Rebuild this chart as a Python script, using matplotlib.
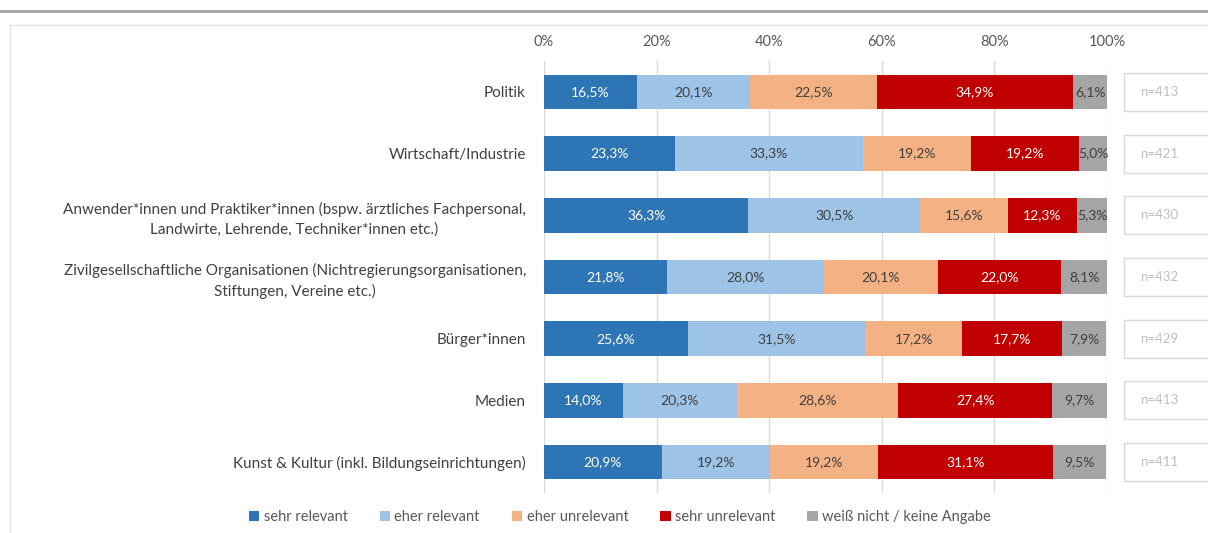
import matplotlib.pyplot as plt
from matplotlib.patches import Rectangle
from matplotlib.lines import Line2D

categories = [
    "Politik",
    "Wirtschaft/Industrie",
    "Anwender*innen und Praktiker*innen (bspw. ärztliches Fachpersonal,\nLandwirte, Lehrende, Techniker*innen etc.)",
    "Zivilgesellschaftliche Organisationen (Nichtregierungsorganisationen,\nStiftungen, Vereine etc.)",
    "Bürger*innen",
    "Medien",
    "Kunst & Kultur (inkl. Bildungseinrichtungen)",
]
series_names = ["sehr relevant", "eher relevant", "eher unrelevant", "sehr unrelevant",
                "weiß nicht / keine Angabe"]
sehr_relevant = [16.5, 23.3, 36.3, 21.8, 25.6, 14.0, 20.9]
eher_relevant = [20.1, 33.3, 30.5, 28.0, 31.5, 20.3, 19.2]
eher_unrelevant = [22.5, 19.2, 15.6, 20.1, 17.2, 28.6, 19.2]
sehr_unrelevant = [34.9, 19.2, 12.3, 22.0, 17.7, 27.4, 31.1]
weiss_nicht = [6.1, 5.0, 5.3, 8.1, 7.9, 9.7, 9.5]
n_values = [413, 421, 430, 432, 429, 413, 411]
x_ticks = [0, 20, 40, 60, 80, 100]
x_tick_labels = ["0%", "20%", "40%", "60%", "80%", "100%"]

series = [sehr_relevant, eher_relevant, eher_unrelevant, sehr_unrelevant, weiss_nicht]
colors = ["#2E75B6", "#9DC3E6", "#F4B183", "#C00000", "#A5A5A5"]
text_colors = ["white", "#404040", "#404040", "white", "#404040"]

plt.rcParams['font.family'] = ['Lato', 'DejaVu Sans']

W, H = 1208, 533
fig = plt.figure(figsize=(W / 100, H / 100), dpi=100)

# decorative top line and chart frame
fig.add_artist(Line2D([0, 1], [1 - 11 / H, 1 - 11 / H], color="#A0A0A0", lw=2,
                      transform=fig.transFigure))
fig.add_artist(Rectangle((10 / W, -0.05), 1.2, 1 - 25 / H + 0.05, transform=fig.transFigure,
                         fill=False, edgecolor="#E3E3E3", lw=1))

ax = fig.add_axes([544 / W, 1 - 493 / H, (1107 - 544) / W, (493 - 61) / H])
ax.set_xlim(0, 100)
ax.set_ylim(len(categories) - 0.5, -0.5)

ypos = list(range(len(categories)))
left = [0.0] * len(categories)
for s, vals in enumerate(series):
    bars = ax.barh(ypos, vals, left=left, height=0.56, color=colors[s],
                   label=series_names[s], zorder=3)
    for i, b in enumerate(bars):
        ax.text(left[i] + vals[i] / 2, ypos[i], f"{vals[i]:.1f}".replace(".", ",") + "%",
                ha="center", va="center", color=text_colors[s], fontsize=10, zorder=4)
    left = [l + v for l, v in zip(left, vals)]

ax.set_yticks(ypos)
ax.set_yticklabels(categories, fontsize=11, color="#404040", ha="right",
                   multialignment="center", linespacing=1.45)
ax.set_xticks(x_ticks)
ax.set_xticklabels(x_tick_labels, fontsize=10.5, color="#595959")
ax.xaxis.tick_top()
ax.tick_params(axis="y", length=0, pad=13)
ax.tick_params(axis="x", length=0, pad=9)
ax.grid(axis="x", color="#D9D9D9", lw=1, zorder=0)
ax.set_axisbelow(True)
for sp in ax.spines.values():
    sp.set_visible(False)

# n= boxes
for i, n in enumerate(n_values):
    yc = ax.transData.transform((0, ypos[i]))[1] / (H)
    bx = 1124 / W
    fig.add_artist(Rectangle((bx, yc - 19 / H), 0.2, 38 / H, transform=fig.transFigure,
                             fill=False, edgecolor="#D9D9D9", lw=1))
    fig.text(1140 / W, yc, f"n={n}", ha="left", va="center", fontsize=9.5,
             color="#BFBFBF")

fig.legend(loc="center", bbox_to_anchor=(620 / W, 1 - 517 / H), ncol=5, frameon=False,
           fontsize=10.5, handlelength=0.7, handleheight=0.7, handletextpad=0.3,
           columnspacing=2.2, labelcolor="#595959")

fig.savefig("out.png", dpi=100)
